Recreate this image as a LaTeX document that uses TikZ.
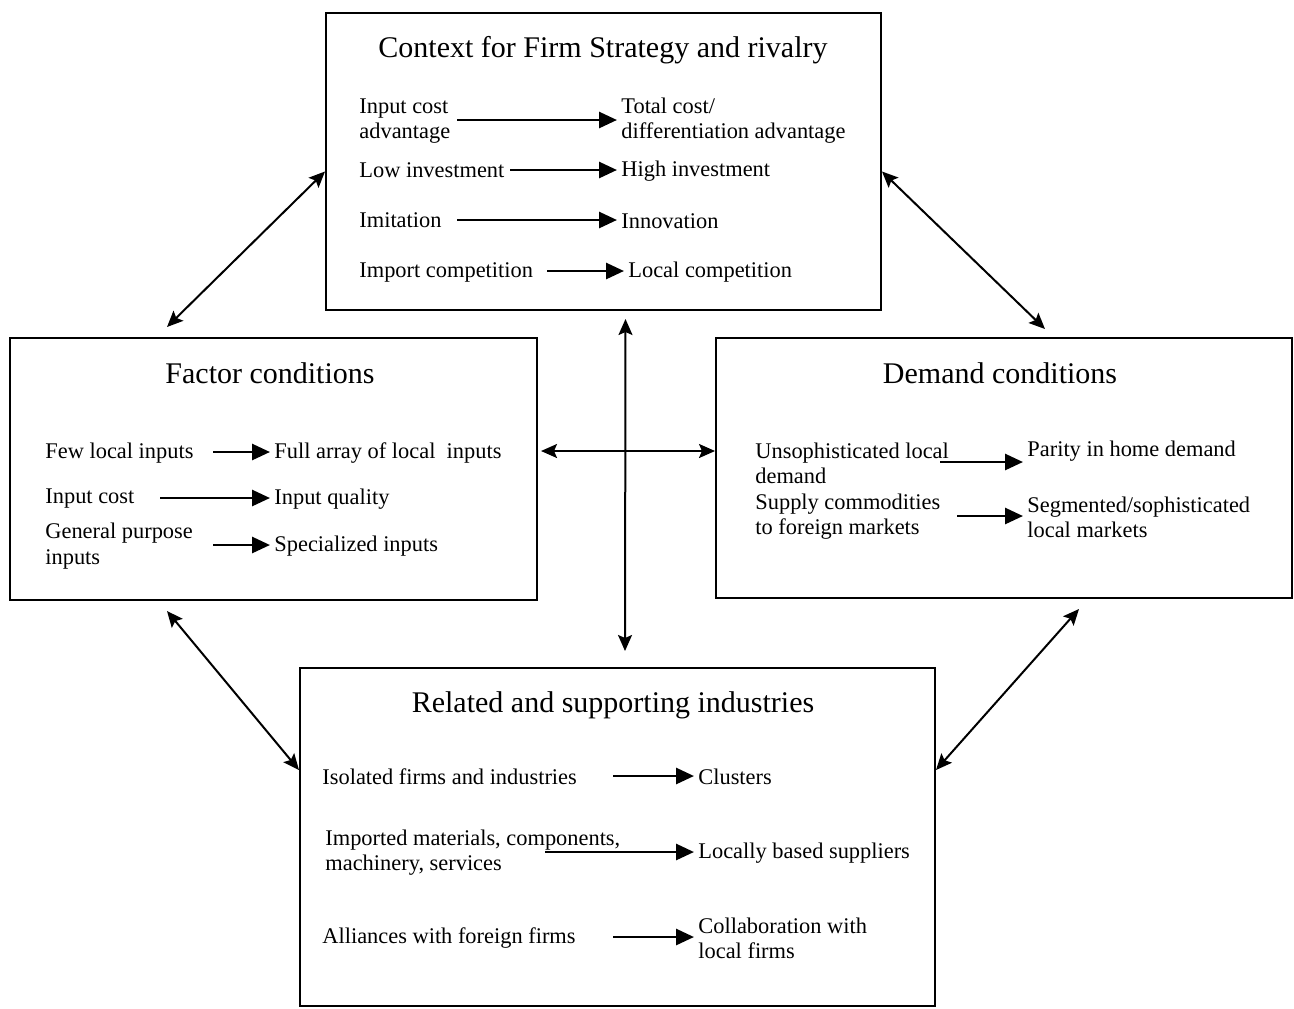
\documentclass[tikz,border=0pt]{standalone}
\usepackage{fontspec}
\setmainfont{Liberation Serif}
\usetikzlibrary{arrows.meta}
\begin{document}
\begin{tikzpicture}[x=0.5pt, y=-0.5pt,
  box/.style={draw, line width=1pt, inner sep=0pt},
  ttl/.style={inner sep=0pt, font=\fontsize{15}{18}\selectfont},
  txt/.style={inner sep=2pt, anchor=west, align=left, font=\fontsize{11.2}{12.6}\selectfont},
  flow/.style={line width=1.4pt, -{Triangle[length=9pt,width=8pt]}},
  link/.style={line width=1pt, {Stealth[length=8pt,width=7pt,inset=1.5pt]}-{Stealth[length=8pt,width=7pt,inset=1.5pt]}}]
\useasboundingbox (0,0) rectangle (1294,1008);
\node[box, minimum width=277.5pt, minimum height=148.5pt] (ctx) at (603.5,161.5){};
\node[box, minimum width=263.5pt, minimum height=131pt] (fac) at (273.5,469){};
\node[box, minimum width=288pt, minimum height=130pt] (dem) at (1004,468){};
\node[box, minimum width=317.5pt, minimum height=169pt] (rel) at (617.5,837){};
\node[ttl] (ctxt) at (603,50){Context for Firm Strategy and rivalry};
\node[ttl] (fact) at (270,373){Factor conditions};
\node[ttl] (demt) at (1000,373){Demand conditions};
\node[ttl] (relt) at (613,705){Related and supporting industries};
\node[txt] (c1a) at (355,121){Input cost\\advantage};
\node[txt] (c1b) at (617,121){Total cost/\\differentiation advantage};
\node[txt] (c2a) at (355,170){Low investment};
\node[txt] (c2b) at (617,171){High investment};
\node[txt] (c3a) at (355,220){Imitation};
\node[txt] (c3b) at (617,221){Innovation};
\node[txt] (c4a) at (355,272){Import competition};
\node[txt] (c4b) at (624,272){Local competition};
\coordinate (c1s) at (457,120);
\coordinate (c2s) at (510,170);
\coordinate (c3s) at (457,220);
\coordinate (c4s) at (547,271);
\draw[flow] (c1s) -- (c1s -| c1b.west);
\draw[flow] (c2s) -- (c2s -| c2b.west);
\draw[flow] (c3s) -- (c3s -| c3b.west);
\draw[flow] (c4s) -- (c4s -| c4b.west);
\node[txt] (f1a) at (41,453){Few local inputs};
\node[txt] (f1b) at (270,453){Full array of local~ inputs};
\node[txt] (f2a) at (41,499){Input cost};
\node[txt] (f2b) at (270,499){Input quality};
\node[txt] (f3a) at (41,546){General purpose\\inputs};
\node[txt] (f3b) at (270,546){Specialized inputs};
\coordinate (f1s) at (213,452);
\coordinate (f2s) at (160,498);
\coordinate (f3s) at (213,545);
\draw[flow] (f1s) -- (f1s -| f1b.west);
\draw[flow] (f2s) -- (f2s -| f2b.west);
\draw[flow] (f3s) -- (f3s -| f3b.west);
\node[txt] (d1a) at (751,463){Unsophisticated local\\demand};
\node[txt] (d1b) at (1023,451){Parity in home demand};
\node[txt] (d2a) at (751,517){Supply commodities\\to foreign markets};
\node[txt] (d2b) at (1023,517){Segmented/sophisticated\\local markets};
\coordinate (d1s) at (940,462);
\coordinate (d2s) at (957,516);
\draw[flow] (d1s) -- (d1s -| d1b.west);
\draw[flow] (d2s) -- (d2s -| d2b.west);
\node[txt] (r1a) at (318,777){Isolated firms and industries};
\node[txt] (r1b) at (694,777){Clusters};
\node[txt] (r2a) at (321,853){Imported materials, components,\\machinery, services};
\node[txt] (r2b) at (694,853){Locally based suppliers};
\node[txt] (r3a) at (318,938){Alliances with foreign firms};
\node[txt] (r3b) at (694,938){Collaboration with\\local firms};
\coordinate (r1s) at (613,776);
\coordinate (r2s) at (545,852);
\coordinate (r3s) at (613,937);
\draw[flow] (r1s) -- (r1s -| r1b.west);
\draw[flow] (r2s) -- (r2s -| r2b.west);
\draw[flow] (r3s) -- (r3s -| r3b.west);
\draw[link] ([shift={(0,10)}]ctx.west) -- ([shift={(158,-10)}]fac.north west);
\draw[link] ([shift={(0,10)}]ctx.east) -- ([shift={(330,-8)}]dem.north west);
\draw[link] ([shift={(22,8)}]ctx.south) -- ([shift={(7.5,-16)}]rel.north);
\draw[link] ([shift={(3,-18)}]fac.east) -- ([shift={(0,-17)}]dem.west);
\draw[link] ([shift={(158,10)}]fac.south west) -- ([shift={(0,-67)}]rel.west);
\draw[link] ([shift={(364,10)}]dem.south west) -- ([shift={(0,-67)}]rel.east);
\end{tikzpicture}
\end{document}
